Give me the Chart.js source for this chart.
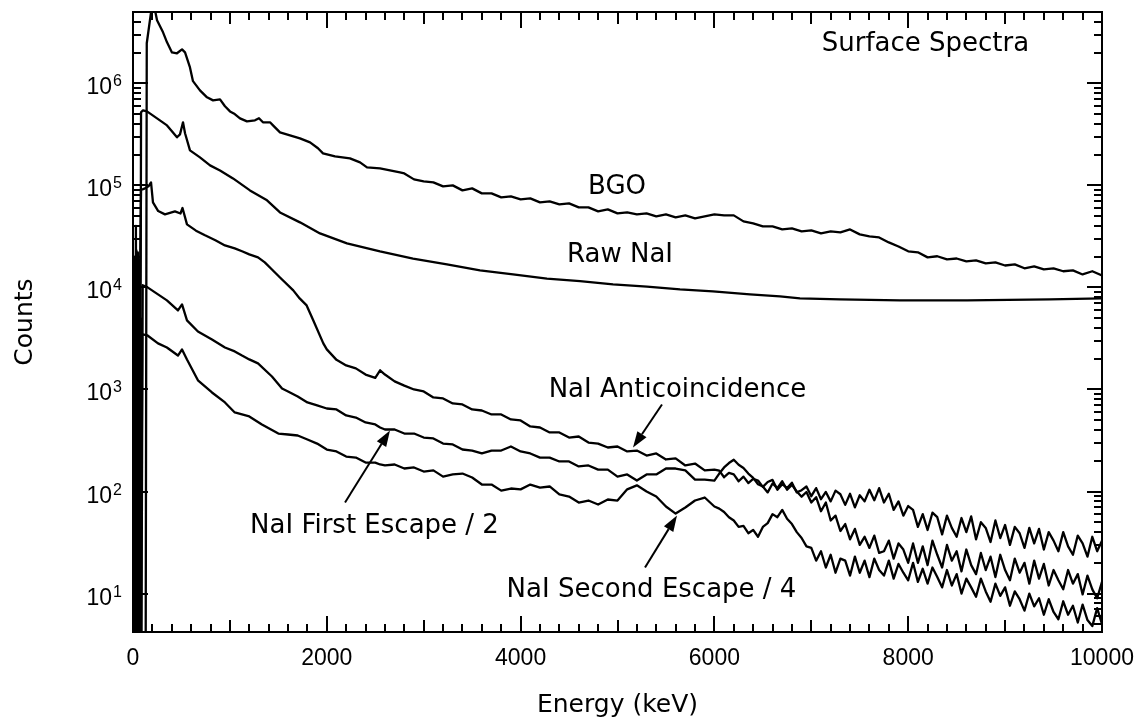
<!DOCTYPE html>
<html>
<head>
<meta charset="utf-8">
<script src="https://cdn.jsdelivr.net/npm/chart.js@4/dist/chart.umd.min.js"></script>
<style>
html,body{margin:0;padding:0;background:#fff;}
#wrap{width:1143px;height:721px;}
</style>
</head>
<body>
<div id="wrap"><canvas id="c" width="1143" height="721"></canvas></div>
<script>
// ---------------- data (energy in keV, counts) ----------------
const bgoEnergy = [0,130,142,196,217,248,310,351,402,454,506,537,588,619,691,764,826,898,949,1001,1050,1104,1176,1259,1300,1341,1414,1445,1517,1620,1723,1827,1909,1961,2085,2239,2343,2415,2549,2755,
2800,2900,3000,3100,3200,3300,3400,3500,3600,3700,3800,3900,4000,4100,4200,4300,4400,4500,4600,4700,4800,4900,5000,5100,5200,5300,5400,5500,5600,5700,5800,5900,6000,6100,6200,6300,6400,6500,6600,6700,6800,6900,7000,7100,7200,7300,7400,7500,7600,7700,7800,7900,8000,8100,8200,8300,8400,8500,8600,8700,8800,8900,9000,9100,9200,9300,9400,9500,9600,9700,9800,9900,10000];
const bgoCounts = [1,1,2470000,5800000,5800000,4150000,3160000,2520000,2010000,1970000,2150000,2010000,1430000,1050000,853000,729000,681000,697000,596000,531000,500000,454000,424000,434000,455000,415000,415000,387000,331000,309000,289000,264000,231000,206000,192000,184000,168000,150000,147000,134000,
131000,114500,109400,107000,97700,100000,89300,93400,83500,83500,76200,78000,72900,74600,68100,69700,65100,66600,60800,60800,55600,58100,53200,54400,52000,53200,49700,52000,48600,50800,47500,49700,52000,50800,50800,44400,42400,39600,39600,37000,37900,35400,36200,33800,35400,34600,37000,33100,31600,30900,27600,25200,22600,22100,19700,20200,18800,19200,18000,18400,17200,17600,16400,16800,15400,16100,15000,15400,14400,14700,13400,14400,13100];

const rawEnergy = [0,70,83,103,144,248,351,454,485,516,537,588,691,795,898,1032,1207,1383,1517,1723,1930,2208,2549,2890,3240,3581,3922,4272,4613,4954,5304,5645,5985,6367,6677,6883,7296,7915,8607,9463,10000];
const rawCounts = [1,1,520000,543000,531000,454000,387000,296000,316000,415000,324000,220000,188000,157000,140000,117000,89300,71300,54300,43400,33800,27000,22500,19200,16800,14700,13400,12200,11500,10700,10200,9550,9140,8540,8160,7800,7630,7460,7460,7630,7800];

const antiHeadEnergy = [0,10,20,30,40,50,60,70,83,124,160,186,206,260,330,433,490,511,557,650,743,850,949,1050,1125,1200,1290,1360,1434,1517,1654,1720,1792,1861,1964];
const antiHeadCounts = [1,20000,1,40000,1,22000,1,9000,90000,93500,98000,107000,68000,56000,52000,55600,53000,60000,41500,36000,32400,29000,25800,24100,22600,21100,19700,17600,15000,12500,9350,7800,6660,4750,2830];

const firstHeadEnergy = [0,15,25,35,45,55,65,75,85,100,150,258,350,464,506,557,670,815,949,1050,1125,1200,1290,1434,1538,1600,1700,1800,1900];
const firstHeadCounts = [1,8000,1,23000,1,6000,1,5000,1,10500,10000,8540,7460,5950,6810,4750,3700,3090,2580,2360,2150,1970,1800,1340,1020,956,854,746,697];

const secondHeadEnergy = [0,12,22,32,42,52,62,72,82,95,100,150,258,350,464,506,557,670,815,949,1050,1200,1330,1500,1600,1700,1800,1900];
const secondHeadCounts = [1,5000,1,3000,1,8000,1,3000,1,3400,3460,3380,2830,2580,2150,2470,1970,1230,934,746,595,544,454,370,362,354,323,295];

const tailEnergy = [2000,2100,2200,2300,2400,2500,2550,2600,2700,2800,2900,3000,3100,3200,3300,3400,3500,3600,3700,3800,3900,4000,4100,4200,4300,4400,4500,4600,4700,4800,4900,5000,5100,5200,5300,5400,5500,5600,5700,5800,5900,6000,
6050,6100,6150,6200,6250,6300,6350,6400,6450,6500,6550,6600,6650,6700,6750,6800,6850,6900,6950,7000,7050,7100,7150,7200,7250,7300,7350,7400,7450,7500,7550,7600,7650,7700,7750,7800,7850,7900,7950,8000,
8050,8100,8150,8200,8250,8300,8350,8400,8450,8500,8550,8600,8650,8700,8750,8800,8850,8900,8950,9000,9050,9100,9150,9200,9250,9300,9350,9400,9450,9500,9550,9600,9650,9700,9750,9800,9850,9900,9950,10000];

const antiTailCounts = [2470,1950,1720,1610,1400,1300,1540,1400,1200,1090,1000,956,835,816,729,713,637,622,569,569,508,497,434,424,379,379,338,346,302,295,270,276,247,252,225,236,206,211,180,188,161,164,
160,138,152,147,126,140,121,133,128,111,124,130,104,118,108,122,98,103,112,90,108,84,99,80,102,94,74,95,70,92,80,104,82,108,78,95,66,80,58,72,
66,45,60,42,62,56,38,58,44,36,55,40,57,34,50,44,32,52,35,47,30,45,39,28,44,31,43,27,40,33,26,40,29,24,37,31,23,36,26,33];

const firstTailCounts = [651,637,556,531,475,454,424,405,405,370,370,338,331,295,289,258,252,236,252,252,276,247,236,215,215,197,197,176,180,164,164,140,147,128,147,147,168,168,161,131,131,128,
150,172,190,205,183,170,150,136,118,112,98,120,108,126,104,116,100,89,99,78,88,64,78,52,58,41,48,34,43,30,36,28,37,25,26,33,22,31,27,20,
31,20,29,19,33,24,18,30,21,26,16.5,27,19,15.5,25,17,23,14.5,24,17,13.5,22,16,20,12.5,21,14,19.5,12,17,13.5,11,17,12.5,15.5,9.8,15,11,9,13];

const secondTailCounts = [258,247,220,215,192,192,184,180,184,168,172,157,161,140,147,150,137,117,117,102,107,105,117,109,112,93.5,89.3,78,81.6,74.6,83.5,81.6,105,115,100,89.3,71.3,60.8,69.7,81.6,87.3,71.3,
68,63,56,52,45,46,39,42,36,45,49,60,56,66,54,48,40,35,29,28,21,26,18,24,16,22,21,15,23,16,21,14.5,22,17,15,21,14,19.5,16,13.5,
20,13,17.5,12.5,18,14.5,11.5,17,12,15.5,10,14,11.5,9.3,14,10.5,8.3,12.5,9.5,11.5,7.6,10.5,8.8,6.8,10,7.5,9,6.2,8.8,6.6,5.6,8.4,6.2,7.6,5.2,7.8,5.5,4.8,7.2,5.0];

// axis ticks / labels
const xTickLabels = [0,2000,4000,6000,8000,10000];
const yTickExponents = [1,2,3,4,5,6];

// annotations: text anchored at (energy, counts) = centre / baseline
const labelTexts = ['Surface Spectra','BGO','Raw NaI','NaI Anticoincidence','NaI First Escape / 2','NaI Second Escape / 4'];
const labelEnergy = [8178,4995,5026,5619,2492,5351];
const labelCounts = [2060000,81700,17600,853,39.6,9.35];
// arrows: from (energy, counts) to tip (energy, counts)
const arrowFromEnergy = [5459,2188,5284];
const arrowFromCounts = [713,78,18.0];
const arrowToEnergy = [5160,2652,5614];
const arrowToCounts = [270,396,58.2];

// ---------------- build ----------------
function pts(e, c) { return e.map((x, i) => ({x: x, y: c[i]})); }
const antiData = pts(antiHeadEnergy, antiHeadCounts).concat(pts(tailEnergy, antiTailCounts));
const firstData = pts(firstHeadEnergy, firstHeadCounts).concat(pts(tailEnergy, firstTailCounts));
const secondData = pts(secondHeadEnergy, secondHeadCounts).concat(pts(tailEnergy, secondTailCounts));

const TICK_FONT = '"Liberation Sans", Arial, Helvetica, sans-serif';
const TEXT_FONT = '"DejaVu Sans", Verdana, sans-serif';

const decor = {
  id: 'decor',
  afterDatasetsDraw(chart) {
    const {ctx, chartArea: a, scales: {x, y}} = chart;
    ctx.save();
    ctx.strokeStyle = '#000';
    ctx.fillStyle = '#000';
    ctx.lineCap = 'butt';
    ctx.lineWidth = 2;
    ctx.strokeRect(a.left, a.top, a.right - a.left, a.bottom - a.top);
    ctx.beginPath();
    for (let e = 0; e <= 10000; e += 200) {
      const px = Math.round(x.getPixelForValue(e));
      const len = (e % 2000 === 0) ? 16 : ((e % 1000 === 0) ? 12 : 8);
      ctx.moveTo(px, a.bottom); ctx.lineTo(px, a.bottom - len);
      ctx.moveTo(px, a.top); ctx.lineTo(px, a.top + len);
    }
    for (let d = 0; d <= 6; d++) {
      for (let m = 1; m <= 9; m++) {
        const v = m * Math.pow(10, d);
        if (v < y.min || v > y.max) continue;
        const py = Math.round(y.getPixelForValue(v));
        const len = (m === 1) ? 15 : 8;
        ctx.moveTo(a.left, py); ctx.lineTo(a.left + len, py);
        ctx.moveTo(a.right, py); ctx.lineTo(a.right - len, py);
      }
    }
    ctx.stroke();

    ctx.font = '23px ' + TICK_FONT;
    ctx.textAlign = 'center';
    ctx.textBaseline = 'alphabetic';
    xTickLabels.forEach(v => ctx.fillText(String(v), x.getPixelForValue(v), a.bottom + 33));
    yTickExponents.forEach(p => {
      const py = y.getPixelForValue(Math.pow(10, p));
      ctx.font = '23px ' + TICK_FONT;
      ctx.textAlign = 'right';
      ctx.fillText('10', a.left - 21, py + 11);
      ctx.font = '16px ' + TICK_FONT;
      ctx.textAlign = 'left';
      ctx.fillText(String(p), a.left - 20, py + 3);
    });

    ctx.font = '25px ' + TEXT_FONT;
    ctx.textAlign = 'center';
    ctx.fillText('Energy (keV)', (a.left + a.right) / 2, 712);
    ctx.save();
    ctx.translate(32, (a.top + a.bottom) / 2);
    ctx.rotate(-Math.PI / 2);
    ctx.fillText('Counts', 0, 0);
    ctx.restore();

    ctx.font = '26px ' + TEXT_FONT;
    ctx.textAlign = 'center';
    labelTexts.forEach((t, i) => {
      ctx.fillText(t, x.getPixelForValue(labelEnergy[i]), y.getPixelForValue(labelCounts[i]));
    });

    ctx.lineWidth = 2;
    for (let i = 0; i < arrowFromEnergy.length; i++) {
      const x0 = x.getPixelForValue(arrowFromEnergy[i]), y0 = y.getPixelForValue(arrowFromCounts[i]);
      const x1 = x.getPixelForValue(arrowToEnergy[i]), y1 = y.getPixelForValue(arrowToCounts[i]);
      const ang = Math.atan2(y1 - y0, x1 - x0);
      const hl = 16, hw = 5.5;
      const bx = x1 - hl * Math.cos(ang), by = y1 - hl * Math.sin(ang);
      ctx.beginPath();
      ctx.moveTo(x0, y0); ctx.lineTo(bx, by);
      ctx.stroke();
      ctx.beginPath();
      ctx.moveTo(x1, y1);
      ctx.lineTo(bx + hw * Math.sin(ang), by - hw * Math.cos(ang));
      ctx.lineTo(bx - hw * Math.sin(ang), by + hw * Math.cos(ang));
      ctx.closePath();
      ctx.fill();
    }
    ctx.restore();
  }
};

const lineStyle = {borderColor: '#000', borderWidth: 2.3, pointRadius: 0, tension: 0, fill: false, borderJoinStyle: 'round'};

new Chart(document.getElementById('c'), {
  type: 'line',
  data: {
    datasets: [
      Object.assign({label: 'BGO', data: pts(bgoEnergy, bgoCounts)}, lineStyle),
      Object.assign({label: 'Raw NaI', data: pts(rawEnergy, rawCounts)}, lineStyle),
      Object.assign({label: 'NaI Anticoincidence', data: antiData}, lineStyle),
      Object.assign({label: 'NaI First Escape / 2', data: firstData}, lineStyle),
      Object.assign({label: 'NaI Second Escape / 4', data: secondData}, lineStyle)
    ]
  },
  options: {
    responsive: false,
    animation: false,
    devicePixelRatio: 1,
    layout: {padding: {left: 133, right: 41, top: 12, bottom: 89}},
    scales: {
      x: {type: 'linear', min: 0, max: 10000, display: false},
      y: {type: 'logarithmic', min: 4.2, max: 5000000, display: false}
    },
    plugins: {legend: {display: false}, tooltip: {enabled: false}},
    events: []
  },
  plugins: [decor]
});
</script>
</body>
</html>
